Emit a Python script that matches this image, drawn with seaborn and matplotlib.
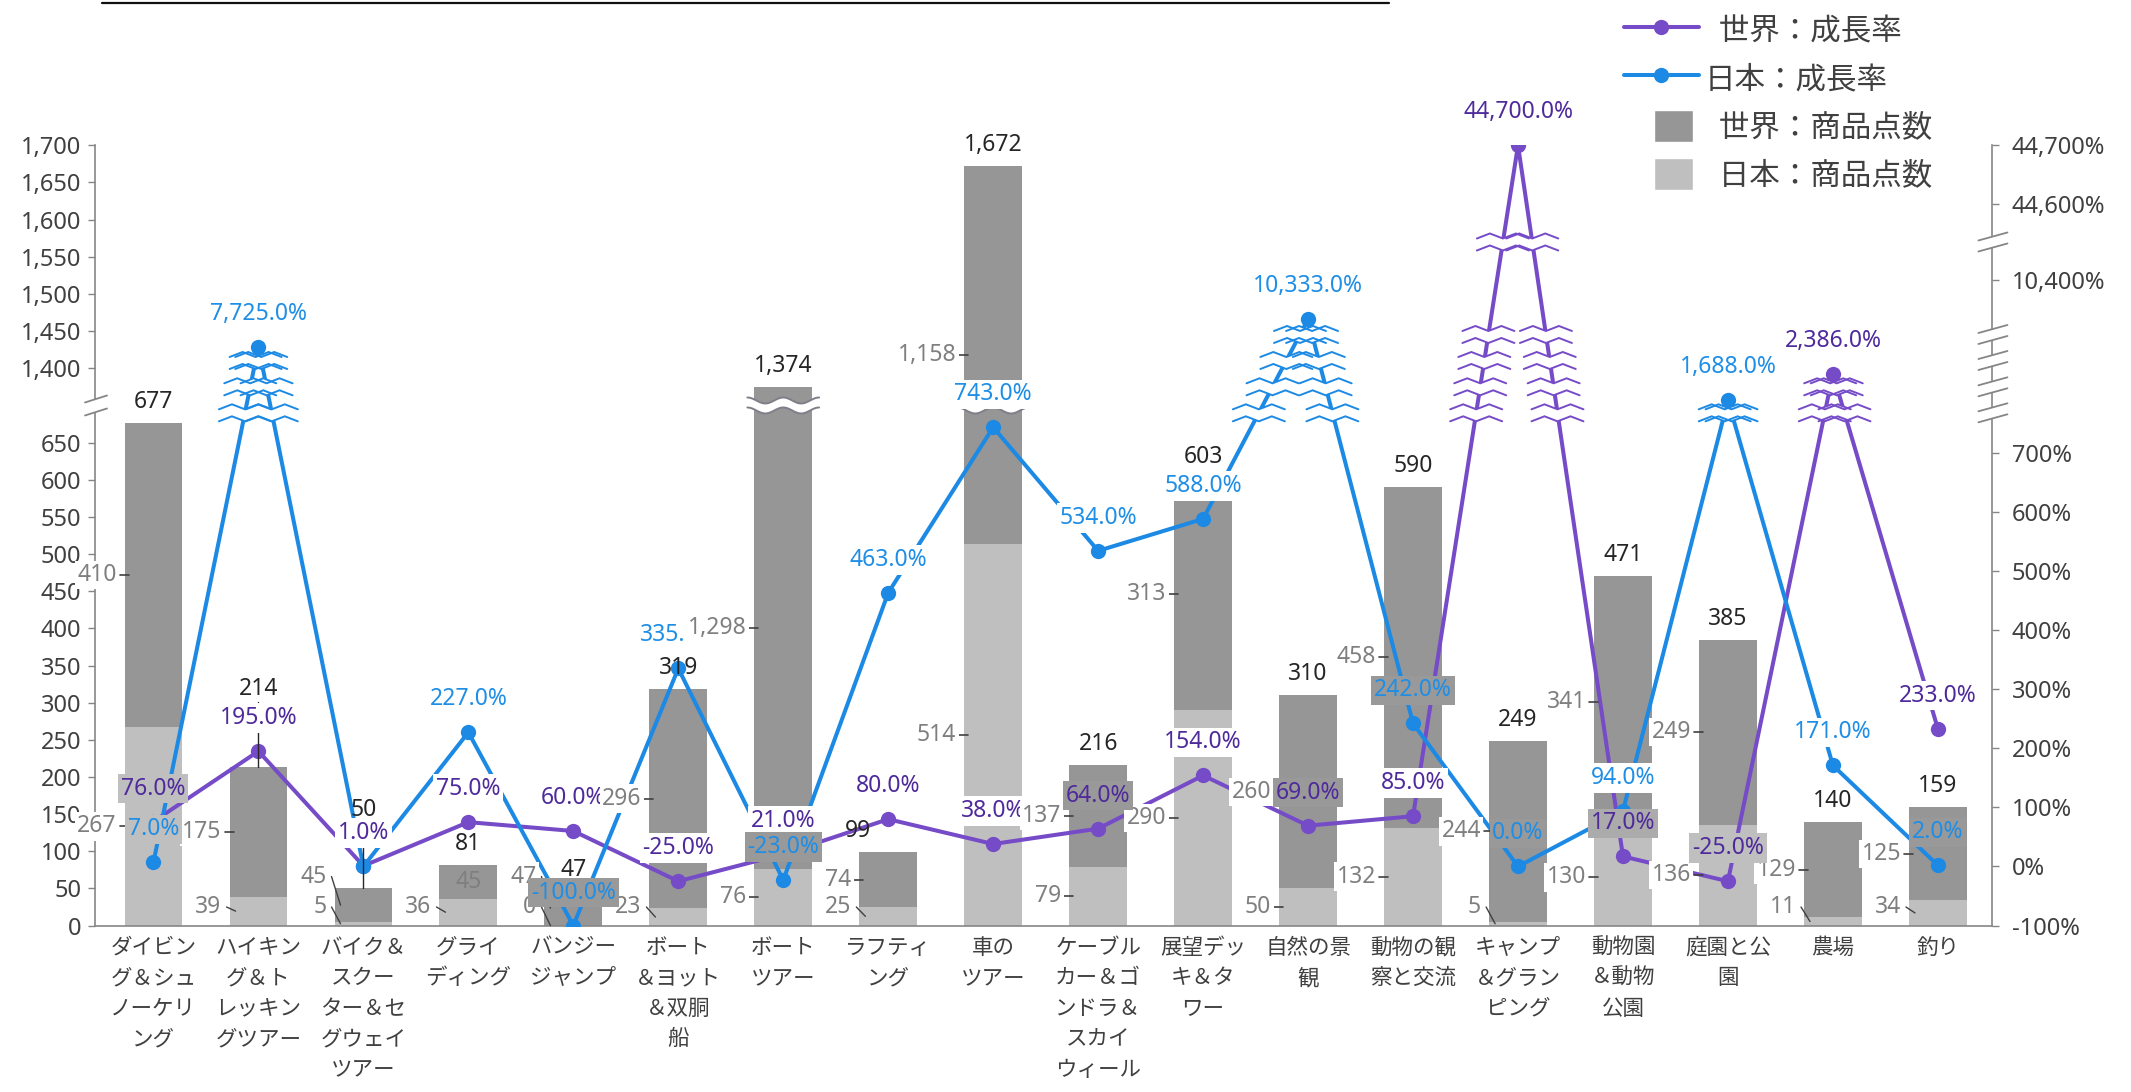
import numpy as np
import pandas as pd
import matplotlib
matplotlib.use("Agg")
import matplotlib.pyplot as plt
import seaborn as sns
from matplotlib.lines import Line2D
from matplotlib.patches import Patch, Polygon, Rectangle
from matplotlib.legend_handler import HandlerPatch
from matplotlib.ticker import FixedLocator, FuncFormatter, NullLocator
from matplotlib.transforms import IdentityTransform

# ---------------- data ----------------
categories = [
    "ダイビン\nグ＆シュ\nノーケリ\nング",
    "ハイキン\nグ＆ト\nレッキン\nグツアー",
    "バイク＆\nスクー\nター＆セ\nグウェイ\nツアー",
    "グライ\nディング",
    "バンジー\nジャンプ",
    "ボート\n＆ヨット\n＆双胴\n船",
    "ボート\nツアー",
    "ラフティ\nング",
    "車の\nツアー",
    "ケーブル\nカー＆ゴ\nンドラ＆\nスカイ\nウィール",
    "展望デッ\nキ＆タ\nワー",
    "自然の景\n観",
    "動物の観\n察と交流",
    "キャンプ\n＆グラン\nピング",
    "動物園\n＆動物\n公園",
    "庭園と公\n園",
    "農場",
    "釣り",
]
world_items = [410, 175, 45, 45, 47, 296, 1298, 74, 1158, 137, 313, 260, 458, 244, 341, 249, 129, 125]
japan_items = [267, 39, 5, 36, 0, 23, 76, 25, 514, 79, 290, 50, 132, 5, 130, 136, 11, 34]
world_growth = [76.0, 195.0, 1.0, 75.0, 60.0, -25.0, 21.0, 80.0, 38.0, 64.0, 154.0, 69.0,
                85.0, 44700.0, 17.0, -25.0, 2386.0, 233.0]
japan_growth = [7.0, 7725.0, 0.0, 227.0, -100.0, 335.0, -23.0, 463.0, 743.0, 534.0, 588.0,
                10333.0, 242.0, 0.0, 94.0, 1688.0, 171.0, 2.0]

count_ticks = list(range(0, 651, 50)) + list(range(1400, 1701, 50))
rate_ticks = list(range(-100, 701, 100)) + [10400, 44600, 44700]

legend_labels = ["  世界：成長率", "日本：成長率", "  世界：商品点数", "  日本：商品点数"]

# broken axes: (value_lo, value_hi, pos_lo, pos_hi) for each visible stretch
COUNT_SEGMENTS = [(0, 700, 0.0, 700.0), (1350, 1700, 700.5, 1050.5)]
RATE_SEGMENTS = [
    (-100, 750, -1.0, 7.5),
    (1650, 1700, 7.85, 7.9),
    (2380, 2400, 8.33, 8.35),
    (7700, 7800, 8.77, 8.87),
    (10320, 10400, 9.13, 9.93),
    (44600, 44700, 11.2, 12.2),
]

# ---------------- style ----------------
DARK_GRAY = "#969696"
LIGHT_GRAY = "#BFBFBF"
PURPLE = "#764BC8"
PURPLE_TXT = "#4E2A9B"
BLUE = "#1C8AE4"
BLUE_TXT = "#1E8EE6"
AXIS_GRAY = "#868686"
TEXT_DARK = "#404040"
SEG_TXT = "#7F7F7F"
BAR_WIDTH = 0.55

# label fills for the growth-rate labels (None = label not shown)
WORLD_FILL = ["light", "white", "white", "white", "white", "white", "white", "white", "white",
              "dark", "white", "dark", "white", "white", "mid", "light", "white", "white"]
JAPAN_FILL = ["light", "white", None, "white", "dark", "white", "dark", "white", "white",
              "white", "white", "white", "dark", "dark", "white", "white", "white", "dark"]
FILL_COLORS = {"white": "white", "light": "#BFBFBF", "mid": "#ABABAB", "dark": "#999999"}
DARK_LABEL_INSIDE = {3}
TOTAL_NUDGE = {1: (0, 57), 2: (0, 57), 7: (-30, 0)}   # pixel shifts of total labels

sns.set_theme(style="white")
NUM_FONT = ["Noto Sans", "Noto Sans CJK JP", "DejaVu Sans"]
CJK_FONT = ["Noto Sans CJK JP", "DejaVu Sans"]
plt.rcParams["font.family"] = NUM_FONT


def make_scale(segments):
    v = np.array([x for s in segments for x in s[:2]], float)
    p = np.array([x for s in segments for x in s[2:]], float)

    def build(xs, ys):
        lo = (ys[1] - ys[0]) / (xs[1] - xs[0])
        hi = (ys[-1] - ys[-2]) / (xs[-1] - xs[-2])

        def f(a):
            a = np.asarray(a, float)
            out = np.interp(a, xs, ys)
            out = np.where(a < xs[0], ys[0] + (a - xs[0]) * lo, out)
            out = np.where(a > xs[-1], ys[-1] + (a - xs[-1]) * hi, out)
            return out
        return f

    breaks = [(segments[k][3] + segments[k + 1][2]) / 2 for k in range(len(segments) - 1)]
    return build(v, p), build(p, v), breaks


cfwd, cinv, count_breaks = make_scale(COUNT_SEGMENTS)
rfwd, rinv, rate_breaks = make_scale(RATE_SEGMENTS)

n = len(categories)
totals = [w + j for w, j in zip(world_items, japan_items)]
idx = np.arange(n)

fig = plt.figure(figsize=(21.31, 10.92), dpi=100)
ax = fig.add_axes([0.04458, 0.1524, 0.8904, 0.7145])

df = pd.DataFrame({"分類": categories, "合計": totals, "日本": japan_items})
sns.barplot(data=df, x="分類", y="合計", order=categories, color=DARK_GRAY, saturation=1,
            width=BAR_WIDTH, linewidth=0, errorbar=None, ax=ax)
sns.barplot(data=df, x="分類", y="日本", order=categories, color=LIGHT_GRAY, saturation=1,
            width=BAR_WIDTH, linewidth=0, errorbar=None, ax=ax)

ax2 = ax.twinx()
sns.lineplot(x=idx, y=world_growth, ax=ax2, color=PURPLE, linewidth=2.9, marker="o",
             markersize=11, markeredgewidth=0, zorder=3)
sns.lineplot(x=idx, y=japan_growth, ax=ax2, color=BLUE, linewidth=2.9, marker="o",
             markersize=11, markeredgewidth=0, zorder=3.1)

# ---- axes and scales ----
ax.set_yscale("function", functions=(cfwd, cinv))
ax.set_ylim(0, 1700)
ax.yaxis.set_major_locator(FixedLocator(count_ticks))
ax.yaxis.set_minor_locator(NullLocator())
ax.yaxis.set_major_formatter(FuncFormatter(lambda v, _: f"{int(round(v)):,}"))

ax2.set_yscale("function", functions=(rfwd, rinv))
ax2.set_ylim(-100, 44700)
ax2.yaxis.set_major_locator(FixedLocator(rate_ticks))
ax2.yaxis.set_minor_locator(NullLocator())
ax2.yaxis.set_major_formatter(FuncFormatter(lambda v, _: f"{int(round(v)):,}%"))

ax.set_xlim(-0.557, n - 1 + 0.52)
ax.set_xlabel("")
ax.set_ylabel("")
ax2.set_ylabel("")
ax2.set_xlabel("")

ax.set_xticks(idx)
ax.set_xticklabels(categories, fontsize=15.5, color=TEXT_DARK, linespacing=1.5,
                   family=CJK_FONT, va="top")
ax.tick_params(axis="x", length=0, pad=8)
ax.tick_params(axis="y", labelsize=17, labelcolor=TEXT_DARK, color=AXIS_GRAY,
               length=5, width=1, direction="out", pad=5, left=True)
ax2.tick_params(axis="y", labelsize=17, labelcolor=TEXT_DARK, color=AXIS_GRAY,
                length=5, width=1, direction="out", pad=9, right=True)

for side in ("top", "right"):
    ax.spines[side].set_visible(False)
for side in ("left", "bottom"):
    ax.spines[side].set_color(AXIS_GRAY)
    ax.spines[side].set_linewidth(1.2)
for side in ("left", "top", "bottom"):
    ax2.spines[side].set_visible(False)
ax2.spines["right"].set_color(AXIS_GRAY)
ax2.spines["right"].set_linewidth(1.2)

IDT = IdentityTransform()


def px(axis, x, y):
    return axis.transData.transform((x, y))


def put_text(x, y, s, **kw):
    kw.setdefault("fontsize", 16.5)
    kw.setdefault("family", NUM_FONT)
    return ax2.text(x, y, s, transform=IDT, clip_on=False, **kw)


def put_line(xs, ys, color, lw=1.0, z=4):
    ax2.add_artist(Line2D(xs, ys, color=color, lw=lw, transform=IDT, zorder=z,
                          clip_on=False, solid_joinstyle="miter"))


def put_poly(pts, z, fc="white"):
    ax2.add_artist(Polygon(pts, closed=True, fc=fc, ec="none", transform=IDT,
                           zorder=z, clip_on=False))


# ---- wavy cut across bars that pass the count-axis break ----
half = BAR_WIDTH / 2
cut_value = cinv(count_breaks[0])
for i in range(n):
    if totals[i] > COUNT_SEGMENTS[0][1]:
        x0 = px(ax, i - half, 0)[0] - 7
        x1 = px(ax, i + half, 0)[0] + 7
        yc = px(ax, i, cut_value)[1]
        t = np.linspace(0, 1, 41)
        xs = x0 + (x1 - x0) * t
        wav = 3.0 * np.cos(2 * np.pi * 2 * t)
        top, bot = yc + 5 + wav, yc - 5 + wav
        put_poly(np.column_stack([np.r_[xs, xs[::-1]], np.r_[top, bot[::-1]]]), z=1)
        put_line(xs, top, "#7F7F8A", lw=1.4, z=1.1)
        put_line(xs, bot, "#7F7F8A", lw=1.4, z=1.1)

# ---- zigzag cuts on the growth lines where they cross the rate-axis breaks ----
def zigzag(xc, yc, color):
    xs = xc + np.linspace(-26, 26, 5)
    wob = np.array([-2.5, 2.5, -2.5, 2.5, -2.5])
    top, bot = yc + 6 + wob, yc - 6 + wob
    put_poly(np.column_stack([np.r_[xs, xs[::-1]], np.r_[top, bot[::-1]]]), z=3.5)
    put_line(xs, top, color, lw=1.4, z=3.6)
    put_line(xs, bot, color, lw=1.4, z=3.6)


for series, color in ((world_growth, PURPLE), (japan_growth, BLUE)):
    pos = rfwd(np.array(series, float))
    for k in range(n - 1):
        a, b = pos[k], pos[k + 1]
        for lvl in rate_breaks:
            if min(a, b) < lvl < max(a, b):
                xc = k + (lvl - a) / (b - a)
                xp, yp = px(ax2, xc, rinv(lvl))
                zigzag(xp, yp, color)

# ---- break marks on the spines ----
def spine_break(xs, ys_center, dx_l, dx_r, rise, sep, z=10):
    for yc in ys_center:
        lo = np.array([[xs - dx_l, yc - sep / 2 - rise / 2], [xs + dx_r, yc - sep / 2 + rise / 2]])
        hi = lo + [0, sep]
        put_poly(np.vstack([lo, hi[::-1]]), z=z)
        put_line(lo[:, 0], lo[:, 1], AXIS_GRAY, lw=1.3, z=z + 0.1)
        put_line(hi[:, 0], hi[:, 1], AXIS_GRAY, lw=1.3, z=z + 0.1)


left_x = px(ax, ax.get_xlim()[0], 0)[0]
right_x = px(ax, ax.get_xlim()[1], 0)[0]
spine_break(left_x, [px(ax, 0, cinv(b))[1] for b in count_breaks], 10, 12, 7, 13)
spine_break(right_x, [px(ax2, 0, rinv(b))[1] for b in rate_breaks], 14, 15, 8, 11)

# ---- segment labels (grey, at the side of each bar) ----
for i in range(n):
    left = px(ax, i - half, 0)[0]
    cx = px(ax, i, 0)[0]
    y0 = px(ax, i, 0)[1]
    yj = px(ax, i, japan_items[i])[1]
    yt = px(ax, i, totals[i])[1]
    box = dict(boxstyle="square,pad=0.1", fc="white", ec="none")

    # Japan part
    mid = (y0 + yj) / 2
    if japan_items[i] < 45:
        ty = px(ax, i, 25)[1]
        put_line([left - 3, left + 6], [ty, mid], "#404040", lw=1.0, z=6)
    else:
        ty = mid
        put_line([left - 5, left + 4], [ty, ty], "#404040", lw=1.2, z=6)
    put_text(left - 8, ty, f"{japan_items[i]:,}", ha="right", va="center",
             color=SEG_TXT, bbox=box, zorder=6)

    # world part
    mid = (yj + yt) / 2
    if i in DARK_LABEL_INSIDE:
        put_text(cx, mid, f"{world_items[i]:,}", ha="center", va="center",
                 color=SEG_TXT, zorder=6)
        continue
    if world_items[i] < 50:
        ty = px(ax, i, 66)[1]
        put_line([left - 3, left + 6], [ty, mid], "#404040", lw=1.0, z=6)
    else:
        ty = mid
        put_line([left - 5, left + 4], [ty, ty], "#404040", lw=1.2, z=6)
    put_text(left - 8, ty, f"{world_items[i]:,}", ha="right", va="center",
             color=SEG_TXT, bbox=box, zorder=6)

# ---- totals above the bars ----
for i in range(n):
    cx, top = px(ax, i, totals[i])
    dx, dy = TOTAL_NUDGE.get(i, (0, 0))
    ty = top + 21 + dy
    if dy > 30:
        put_line([cx, cx], [ty - 13, top], "#262626", lw=1.0, z=4)
    put_text(cx + dx, ty, f"{totals[i]:,}", ha="center", va="center",
             color="#262626", zorder=5.5)

# ---- growth-rate labels ----
for series, fills, tcolor in ((world_growth, WORLD_FILL, PURPLE_TXT),
                              (japan_growth, JAPAN_FILL, BLUE_TXT)):
    for i, g in enumerate(series):
        fill = fills[i]
        if fill is None:
            continue
        xp, yp = px(ax2, i, g)
        put_text(xp, yp + 33, f"{g:,.1f}%", ha="center", va="center", color=tcolor,
                 bbox=dict(boxstyle="square,pad=0.12", fc=FILL_COLORS[fill], ec="none"),
                 zorder=5 if fill == "white" else 7)

# ---- heading underline (the heading text sits above the canvas) ----
fig.add_artist(Line2D([102 / 2131, 1389 / 2131], [1 - 3 / 1092] * 2, color="#111111",
                      lw=1.6, transform=fig.transFigure))

# ---- legend ----
def square_patch(legend, orig_handle, xdescent, ydescent, width, height, fontsize):
    w = height * 1.2
    return Rectangle((width - xdescent - w - 0.2 * fontsize, -ydescent), w, height)


handles = [
    Line2D([], [], color=PURPLE, lw=2.9, marker="o", ms=11, mew=0),
    Line2D([], [], color=BLUE, lw=2.9, marker="o", ms=11, mew=0),
    Patch(facecolor=DARK_GRAY),
    Patch(facecolor=LIGHT_GRAY),
]
leg = fig.legend(handles, legend_labels, loc="upper left", bbox_to_anchor=(0.762, 0.9876),
                 frameon=False, prop={"family": CJK_FONT, "size": 22},
                 handler_map={Patch: HandlerPatch(patch_func=square_patch)},
                 handlelength=2.45, handleheight=1.25, labelspacing=0.48,
                 handletextpad=0.2, borderpad=0, borderaxespad=0)
for t in leg.get_texts():
    t.set_color(TEXT_DARK)

fig.savefig("out.png", dpi=100, facecolor="white")
